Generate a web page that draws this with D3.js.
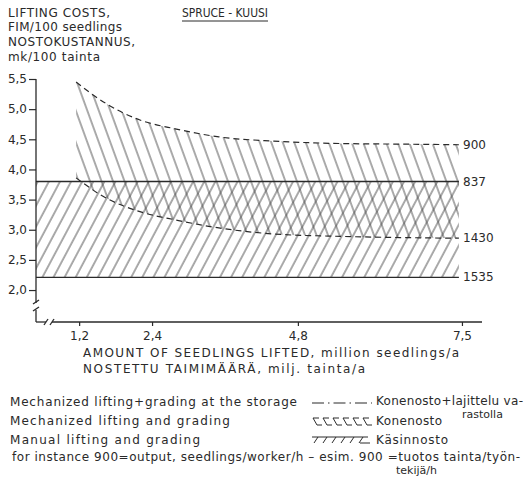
<!DOCTYPE html>
<html>
<head>
<meta charset="utf-8">
<script src="https://cdn.jsdelivr.net/npm/d3@7"></script>
<style>
  body { margin: 0; background: #fff; }
  svg text { font-family: "DejaVu Sans", sans-serif; fill: #2a2a2a; }
</style>
</head>
<body>
<div id="chart"></div>
<script>
// output (seedlings/worker/h) curves, x = million seedlings/a
var mechX = [1.15, 1.6, 2.2, 2.8, 3.5, 4.4, 5.5, 6.5, 7.45];
var mech900 = [5.45, 5.12, 4.82, 4.67, 4.54, 4.47, 4.43, 4.42, 4.41];
var mech1430 = [3.86, 3.55, 3.30, 3.16, 3.03, 2.93, 2.89, 2.87, 2.86];

// manual lifting band
var manualX = [0.49, 7.45];
var manualTop = 3.80;    // 837
var manualBottom = 2.21; // 1535

var xTicks = [1.2, 2.4, 4.8, 7.5];
var yTicks = [2.0, 2.5, 3.0, 3.5, 4.0, 4.5, 5.0, 5.5];
var endLabels = [
  { text: "900", value: 4.41 },
  { text: "837", value: 3.80 },
  { text: "1430", value: 2.86 },
  { text: "1535", value: 2.21 }
];

var width = 529, height = 480;

var svg = d3.select("#chart")
  .append("svg")
  .attr("width", width)
  .attr("height", height);

var x = d3.scaleLinear().domain([0.49, 7.83]).range([36, 482]);
var y = d3.scaleLinear().domain([1.47, 5.5]).range([322, 79]);

var fmt = function (d) { return d.toFixed(1).replace(".", ","); };

// hatch patterns
var defs = svg.append("defs");
function hatch(id, spacing, angle) {
  defs.append("pattern")
    .attr("id", id)
    .attr("patternUnits", "userSpaceOnUse")
    .attr("width", spacing)
    .attr("height", spacing)
    .attr("patternTransform", "rotate(" + angle + ")")
    .append("line")
    .attr("x1", 1).attr("y1", 0)
    .attr("x2", 1).attr("y2", spacing)
    .attr("stroke", "#444")
    .attr("stroke-width", 0.9);
}
hatch("hatchManual", 9.8, 28);
hatch("hatchMech", 10.8, -20);

// manual band
svg.append("rect")
  .attr("x", x(manualX[0]))
  .attr("y", y(manualTop))
  .attr("width", x(manualX[1]) - x(manualX[0]))
  .attr("height", y(manualBottom) - y(manualTop))
  .attr("fill", "url(#hatchManual)");

// mechanized area
var mechData = mechX.map(function (d, i) { return { x: d, hi: mech900[i], lo: mech1430[i] }; });

svg.append("path")
  .datum(mechData)
  .attr("fill", "url(#hatchMech)")
  .attr("d", d3.area()
    .x(function (d) { return x(d.x); })
    .y0(function (d) { return y(d.lo); })
    .y1(function (d) { return y(d.hi); })
    .curve(d3.curveMonotoneX));

// manual lines
[manualTop, manualBottom].forEach(function (v) {
  svg.append("line")
    .attr("x1", x(manualX[0])).attr("x2", x(manualX[1]))
    .attr("y1", y(v)).attr("y2", y(v))
    .attr("stroke", "#2a2a2a")
    .attr("stroke-width", 1.3);
});

// dashed curves
[mech900, mech1430].forEach(function (arr) {
  svg.append("path")
    .datum(mechX.map(function (d, i) { return [d, arr[i]]; }))
    .attr("fill", "none")
    .attr("stroke", "#2a2a2a")
    .attr("stroke-width", 1.2)
    .attr("stroke-dasharray", "6,4")
    .attr("d", d3.line()
      .x(function (d) { return x(d[0]); })
      .y(function (d) { return y(d[1]); })
      .curve(d3.curveMonotoneX));
});

// end labels
svg.selectAll(".endlab")
  .data(endLabels)
  .enter()
  .append("text")
  .attr("class", "endlab")
  .attr("x", 463)
  .attr("y", function (d) { return y(d.value) + 4; })
  .attr("font-size", 12)
  .text(function (d) { return d.text; });

// axes
var yAxis = svg.append("g")
  .attr("transform", "translate(36,0)")
  .call(d3.axisLeft(y).tickValues(yTicks).tickFormat(fmt).tickSize(7).tickPadding(2));
var xAxis = svg.append("g")
  .attr("transform", "translate(0,322)")
  .call(d3.axisBottom(x).tickValues(xTicks).tickFormat(fmt).tickSize(4).tickPadding(5));

[yAxis, xAxis].forEach(function (g) {
  g.select(".domain").remove();
  g.selectAll(".tick line").attr("stroke", "#2a2a2a").attr("stroke-width", 1.2);
  g.selectAll(".tick text")
    .attr("font-family", null)
    .attr("font-size", 12)
    .attr("fill", "#2a2a2a");
});

// axis lines with breaks
var axisLines = [
  [36, y(5.5), 36, 303],
  [36, 310, 36, 322],
  [36, 322, 46, 322],
  [52, 322, 482, 322],
  [33, 304, 39, 300],
  [33, 311, 39, 307],
  [44, 325, 48, 319],
  [50, 325, 54, 319]
];
svg.selectAll(".axisline")
  .data(axisLines)
  .enter()
  .append("line")
  .attr("x1", function (d) { return d[0]; })
  .attr("y1", function (d) { return d[1]; })
  .attr("x2", function (d) { return d[2]; })
  .attr("y2", function (d) { return d[3]; })
  .attr("stroke", "#2a2a2a")
  .attr("stroke-width", 1.3);

// titles
function label(txt, px, py, len, size) {
  var t = svg.append("text")
    .attr("x", px)
    .attr("y", py)
    .attr("font-size", size || 12)
    .text(txt);
  if (len) {
    var natural = t.node().getComputedTextLength();
    t.attr("textLength", len)
      .attr("lengthAdjust", natural > len ? "spacingAndGlyphs" : "spacing");
  }
  return t;
}

label("LIFTING COSTS,", 8, 17, 102);
label("FIM/100 seedlings", 8, 31, 114);
label("NOSTOKUSTANNUS,", 8, 46, 127);
label("mk/100 tainta", 8, 61, 92);

label("SPRUCE - KUUSI", 182, 17, 86);
svg.append("line")
  .attr("x1", 182).attr("x2", 268)
  .attr("y1", 21).attr("y2", 21)
  .attr("stroke", "#2a2a2a")
  .attr("stroke-width", 1);

label("AMOUNT OF SEEDLINGS LIFTED, million seedlings/a", 83, 357, 376);
label("NOSTETTU  TAIMIMÄÄRÄ, milj. tainta/a", 83, 373, 282);

// legend
label("Mechanized lifting+grading at the storage", 10, 406, 287);
label("Konenosto+lajittelu va-", 376, 405, 147);
label("rastolla", 462, 418, null, 11);
label("Mechanized lifting and grading", 10, 425, 220);
label("Konenosto", 376, 425, 66);
label("Manual lifting and grading", 10, 444, 190);
label("Käsinnosto", 376, 444, 72);
label("for instance 900=output, seedlings/worker/h \u2013 esim. 900 =tuotos tainta/työn-", 12, 461, 508);
label("tekijä/h", 396, 474, null, 11);

// legend symbols
svg.append("line")
  .attr("x1", 312).attr("x2", 372)
  .attr("y1", 403).attr("y2", 403)
  .attr("stroke", "#2a2a2a")
  .attr("stroke-width", 1.2)
  .attr("stroke-dasharray", "12,4,1.5,4");

var symMech = svg.append("g").attr("stroke", "#2a2a2a").attr("stroke-width", 1).attr("fill", "none");
d3.range(313, 368, 10).forEach(function (sx) {
  symMech.append("path").attr("d", "M" + sx + ",418 h6 M" + sx + ",418 l4,7 h5");
});

var symMan = svg.append("g").attr("stroke", "#2a2a2a").attr("stroke-width", 1).attr("fill", "none");
symMan.append("line").attr("x1", 312).attr("x2", 368).attr("y1", 437).attr("y2", 437);
d3.range(318, 372, 9).forEach(function (sx) {
  symMan.append("line").attr("x1", sx).attr("y1", 437).attr("x2", sx - 4).attr("y2", 443);
});
symMan.append("line").attr("x1", 360).attr("x2", 370).attr("y1", 443).attr("y2", 443);
</script>
</body>
</html>
